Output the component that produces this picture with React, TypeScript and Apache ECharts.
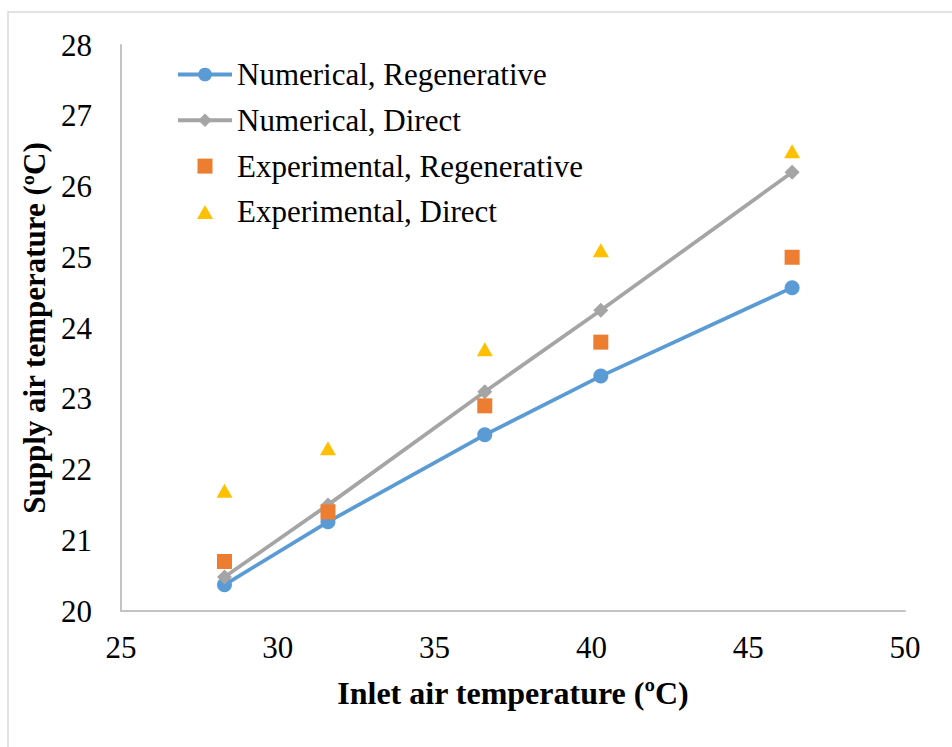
import React, { useEffect, useRef } from "react";
import * as echarts from "echarts";

// Inlet air temperature (ºC) at which each case was evaluated
const inletTemps = [28.3, 31.6, 36.6, 40.3, 46.4];

// Supply air temperature (ºC) for each configuration
const numericalRegenerative = [20.37, 21.26, 22.49, 23.32, 24.57];
const numericalDirect = [20.48, 21.5, 23.1, 24.25, 26.2];
const experimentalRegenerative = [20.7, 21.4, 22.9, 23.8, 25.0];
const experimentalDirect = [21.7, 22.3, 23.7, 25.1, 26.5];

const seriesNames = [
  "Numerical, Regenerative",
  "Numerical, Direct",
  "Experimental, Regenerative",
  "Experimental, Direct",
];

const pair = (ys: number[]) => inletTemps.map((x, i) => [x, ys[i]]);

const FONT = "Liberation Serif";
const AXIS_GREY = "#c4c4c4";

// Legend glyphs for the marker-only series: the leading moves span the whole
// 54x17 icon box so the shape keeps its own size and sits in the middle.
const LEGEND_SQUARE = "path://M0,0M54,17M19.5,1h15v15h-15Z";
const LEGEND_TRIANGLE = "path://M0,0M54,17M27,1.5L35,15.5L19,15.5Z";

export default function App() {
  const ref = useRef<HTMLDivElement>(null);

  useEffect(() => {
    if (!ref.current) return;
    const chart = echarts.init(ref.current, undefined, { renderer: "svg" });
    chart.setOption({
      animation: false,
      backgroundColor: "#ffffff",
      textStyle: { fontFamily: FONT },
      graphic: [
        {
          type: "rect",
          shape: { x: 8, y: 12, width: 1000, height: 800 },
          style: { fill: "none", stroke: "#d9d9d9", lineWidth: 1.5 },
          silent: true,
        },
      ],
      grid: { left: 121, right: 47, top: 45, bottom: 136 },
      legend: {
        orient: "vertical",
        left: 176,
        top: 58,
        padding: 0,
        itemWidth: 54,
        itemHeight: 17,
        itemGap: 12.8,
        symbolKeepAspect: true,
        lineStyle: { width: 4 },
        data: [
          { name: seriesNames[0] },
          { name: seriesNames[1] },
          { name: seriesNames[2], icon: LEGEND_SQUARE },
          { name: seriesNames[3], icon: LEGEND_TRIANGLE },
        ],
        textStyle: {
          fontFamily: FONT,
          fontSize: 31,
          color: "#000",
          lineHeight: 33,
        },
      },
      xAxis: {
        type: "value",
        min: 25,
        max: 50,
        interval: 5,
        name: "Inlet air temperature (ºC)",
        nameLocation: "middle",
        nameGap: 66,
        nameTextStyle: {
          fontFamily: FONT,
          fontSize: 32,
          fontWeight: "bold",
          color: "#000",
        },
        axisLine: { lineStyle: { color: AXIS_GREY, width: 2 } },
        axisTick: { show: false },
        splitLine: { show: false },
        axisLabel: {
          fontFamily: FONT,
          fontSize: 31,
          color: "#000",
          margin: 21,
        },
      },
      yAxis: {
        type: "value",
        min: 20,
        max: 28,
        interval: 1,
        name: "Supply air temperature (ºC)",
        nameLocation: "middle",
        nameGap: 65,
        nameTextStyle: {
          fontFamily: FONT,
          fontSize: 31,
          fontWeight: "bold",
          color: "#000",
        },
        axisLine: { show: true, lineStyle: { color: AXIS_GREY, width: 2 } },
        axisTick: { show: false },
        splitLine: { show: false },
        axisLabel: {
          fontFamily: FONT,
          fontSize: 31,
          color: "#000",
          margin: 29,
        },
      },
      series: [
        {
          name: seriesNames[0],
          type: "line",
          data: pair(numericalRegenerative),
          symbol: "circle",
          symbolSize: 15,
          lineStyle: { color: "#5b9bd5", width: 3.75 },
          itemStyle: { color: "#5b9bd5" },
          z: 3,
        },
        {
          name: seriesNames[1],
          type: "line",
          data: pair(numericalDirect),
          symbol: "diamond",
          symbolSize: 15,
          lineStyle: { color: "#a5a5a5", width: 3.75 },
          itemStyle: { color: "#a5a5a5" },
          z: 3,
        },
        {
          name: seriesNames[2],
          type: "scatter",
          data: pair(experimentalRegenerative),
          symbol: "rect",
          symbolSize: 15,
          itemStyle: { color: "#ed7d31", opacity: 1 },
          z: 4,
        },
        {
          name: seriesNames[3],
          type: "scatter",
          data: pair(experimentalDirect),
          symbol: "triangle",
          symbolSize: [16, 14],
          itemStyle: { color: "#ffc000", opacity: 1 },
          z: 4,
        },
      ],
    });
    return () => chart.dispose();
  }, []);

  return (
    <div
      ref={ref}
      style={{ position: "absolute", left: 0, top: 0, width: 952, height: 747 }}
    />
  );
}
